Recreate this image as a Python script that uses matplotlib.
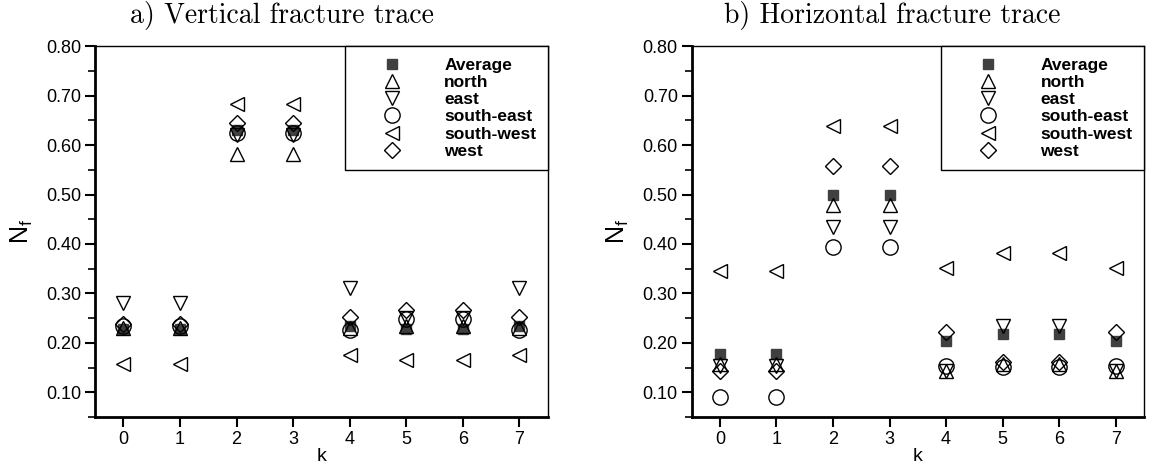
import numpy as np
import matplotlib
matplotlib.use("Agg")
from matplotlib import pyplot as plt
from matplotlib.ticker import MultipleLocator

k = [0, 1, 2, 3, 4, 5, 6, 7]

# a) vertical fracture trace
vert_average = [0.228, 0.228, 0.630, 0.630, 0.235, 0.229, 0.229, 0.235]
vert_north = [0.230, 0.230, 0.583, 0.583, 0.230, 0.235, 0.235, 0.230]
vert_east = [0.280, 0.280, 0.620, 0.620, 0.311, 0.250, 0.250, 0.311]
vert_southeast = [0.234, 0.234, 0.625, 0.625, 0.227, 0.249, 0.249, 0.227]
vert_southwest = [0.158, 0.158, 0.684, 0.684, 0.176, 0.166, 0.166, 0.176]
vert_west = [0.238, 0.238, 0.645, 0.645, 0.252, 0.267, 0.267, 0.252]

# b) horizontal fracture trace
hor_average = [0.178, 0.178, 0.500, 0.500, 0.203, 0.218, 0.218, 0.203]
hor_north = [0.158, 0.158, 0.478, 0.478, 0.144, 0.158, 0.158, 0.144]
hor_east = [0.154, 0.154, 0.434, 0.434, 0.144, 0.235, 0.235, 0.144]
hor_southeast = [0.091, 0.091, 0.394, 0.394, 0.154, 0.151, 0.151, 0.154]
hor_southwest = [0.345, 0.345, 0.639, 0.639, 0.352, 0.382, 0.382, 0.352]
hor_west = [0.144, 0.144, 0.558, 0.558, 0.222, 0.162, 0.162, 0.222]

labels = ["Average", "north", "east", "south-east", "south-west", "west"]
titles = ["a) Vertical fracture trace", "b) Horizontal fracture trace"]

plt.rcParams['font.family'] = ['Liberation Sans', 'DejaVu Sans']

fig = plt.figure(figsize=(11.52, 4.67), dpi=100)
ax1 = fig.add_axes([0.0825, 0.107, 0.393, 0.794])
ax2 = fig.add_axes([0.6004, 0.107, 0.3926, 0.794])

styles = [
    dict(marker="s", ms=7.5, mfc="#404040", mec="#404040"),
    dict(marker="^", ms=10, mfc="none", mec="black"),
    dict(marker="v", ms=10, mfc="none", mec="black"),
    dict(marker="o", ms=11, mfc="none", mec="black"),
    dict(marker="<", ms=10, mfc="none", mec="black"),
    dict(marker="D", ms=8, mfc="none", mec="black"),
]

data = [
    [vert_average, vert_north, vert_east, vert_southeast, vert_southwest, vert_west],
    [hor_average, hor_north, hor_east, hor_southeast, hor_southwest, hor_west],
]

for ax, series in zip([ax1, ax2], data):
    for vals, st, lab in zip(series, styles, labels):
        ax.plot(k, vals, ls="none", mew=1.0, label=lab, **st)
    ax.set_xlim(-0.5, 7.5)
    ax.set_ylim(0.05, 0.80)
    ax.set_xticks(k)
    ax.yaxis.set_major_locator(MultipleLocator(0.1))
    ax.yaxis.set_minor_locator(MultipleLocator(0.05))
    ax.yaxis.set_major_formatter(plt.FormatStrFormatter("%.2f"))
    ax.tick_params(axis="both", which="major", direction="out", length=7, width=1.5,
                   labelsize=13, pad=3)
    ax.tick_params(axis="y", which="minor", direction="out", length=5, width=1.2)
    for s in ["left", "bottom"]:
        ax.spines[s].set_linewidth(2)
    for s in ["top", "right"]:
        ax.spines[s].set_linewidth(1)
    ax.set_xlabel("k", fontsize=14, labelpad=0)
    ax.set_ylabel(r"N$_\mathregular{f}$", fontsize=18, labelpad=8)
    leg = ax.legend(loc="upper right", bbox_to_anchor=(1, 1), borderaxespad=0,
                    frameon=True, fancybox=False, edgecolor="black", framealpha=1,
                    prop={"weight": "bold", "size": 12.5}, labelspacing=0.12,
                    handlelength=4.2, handletextpad=0.9, borderpad=0.65,
                    numpoints=1)
    leg.get_frame().set_linewidth(1)

fig.text(282 / 1152, 1 - 15 / 467, titles[0], family="cmr10", fontsize=20, ha="center", va="center")
fig.text(892 / 1152, 1 - 15 / 467, titles[1], family="cmr10", fontsize=20, ha="center", va="center")

fig.savefig("out.png", dpi=100)
